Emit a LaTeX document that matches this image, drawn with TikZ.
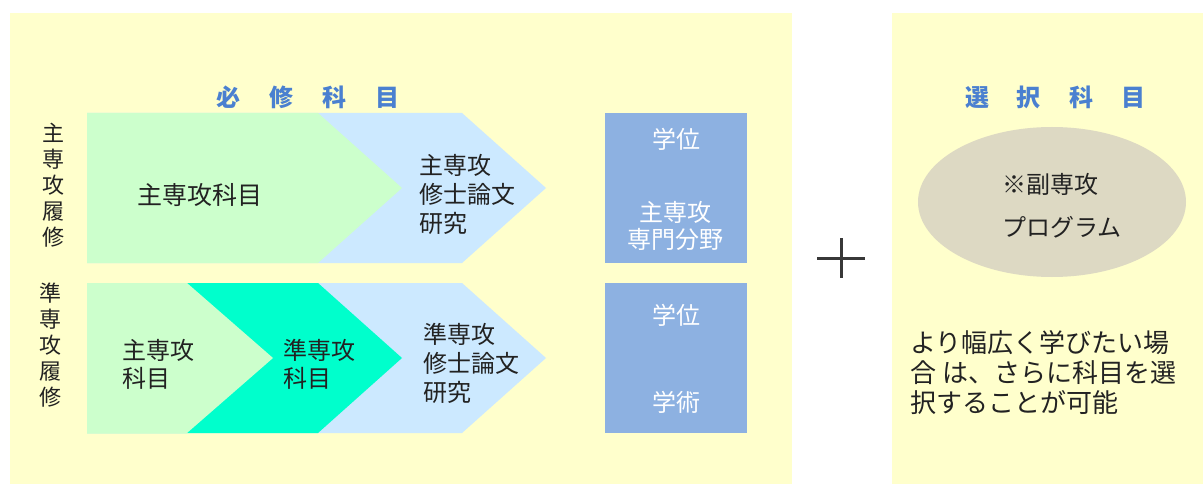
\documentclass[tikz,border=0pt]{standalone}
\usepackage{fontspec}
\usetikzlibrary{shapes.geometric}
\newfontfamily\jp{Noto Sans CJK JP}
\definecolor{panelc}{HTML}{FFFFCC}
\definecolor{lgreen}{HTML}{CCFFCC}
\definecolor{lblue}{HTML}{CCE9FF}
\definecolor{tealc}{HTML}{00FFCC}
\definecolor{degblue}{HTML}{8DB1E1}
\definecolor{titleblue}{HTML}{4A80D0}
\definecolor{ellc}{HTML}{DDD9C3}
\definecolor{txt}{HTML}{222222}
\begin{document}
\begin{tikzpicture}[x=1pt,y=-1pt,
  panel/.style={fill=panelc},
  degbox/.style={fill=degblue, minimum width=142pt, minimum height=150pt, inner sep=0pt},
  body/.style={text=txt, inner sep=0pt, align=left, font={\jp\fontsize{24}{29}\selectfont}},
  vert/.style={text=txt, inner sep=0pt, align=center, font={\jp\fontsize{22}{26}\selectfont}},
  wtext/.style={text=white, inner sep=0pt, align=center, font={\jp\fontsize{24}{27}\selectfont}},
  title/.style={text=titleblue, inner sep=0pt, font={\jp\bfseries\fontsize{24}{28}\selectfont}},
  note/.style={text=txt, inner sep=0pt, align=left, font={\jp\fontsize{26}{30}\selectfont}}
]
\useasboundingbox (0,0) rectangle (1203,484);
% panels
\fill[panel] (10,13) rectangle (792,484);
\fill[panel] (892,13) rectangle (1203,484);
% row 1 chevrons
\fill[lblue] (87,113) -- (462,113) -- (546,188) -- (462,263) -- (87,263) -- cycle;
\fill[lgreen] (87,113) -- (318,113) -- (402,188) -- (318,263) -- (87,263) -- cycle;
% row 2 chevrons
\fill[lblue] (87,283) -- (462,283) -- (546,358) -- (462,433) -- (87,433) -- cycle;
\fill[tealc] (87,283) -- (318,283) -- (402,358) -- (318,433) -- (87,433) -- cycle;
\fill[lgreen] (87,283) -- (187,283) -- (273,358) -- (187,433) -- (87,433) -- cycle;
% degree boxes
\node[degbox] (deg1) at (676,188) {};
\node[degbox] (deg2) at (676,358) {};
% titles
\node[title] (t1) at (308,97) {必\hspace{29pt}修\hspace{29pt}科\hspace{29pt}目};
\node[title] (t2) at (1055,97) {選\hspace{28pt}択\hspace{28pt}科\hspace{28pt}目};
% vertical labels
\node[vert] (v1) at (53,185) {主\\専\\攻\\履\\修};
\node[vert] (v2) at (50,345) {準\\専\\攻\\履\\修};
% row 1 texts
\node[body, anchor=west, font={\jp\fontsize{25}{29}\selectfont}] (r1a) at (137,195) {主専攻科目};
\node[body, anchor=west] (r1b) at (419,194) {主専攻\\修士論文\\研究};
\node[wtext] (d1a) at (676,139) {学位};
\node[wtext] (d1b) at (675,226) {主専攻\\専門分野};
% row 2 texts
\node[body, anchor=west, font={\jp\fontsize{24}{28}\selectfont}] (r2a) at (122,364) {主専攻\\科目};
\node[body, anchor=west, font={\jp\fontsize{24}{28}\selectfont}] (r2b) at (283,364) {準専攻\\科目};
\node[body, anchor=west] (r2c) at (423,363) {準専攻\\修士論文\\研究};
\node[wtext] (d2a) at (676,315) {学位};
\node[wtext] (d2b) at (676,402) {学術};
% plus sign
\draw[line width=3pt, txt!90] (817,258) -- (865,258);
\draw[line width=3pt, txt!90] (841,238) -- (841,278);
% elective
\node[ellipse, fill=ellc, minimum width=268pt, minimum height=150pt, inner sep=0pt] (ell) at (1052,202) {};
\node[body, anchor=west, font={\jp\fontsize{24}{43}\selectfont}] (ellt) at (1002,206) {※副専攻\\プログラム};
\node[note, anchor=west] (nt) at (910,373) {より幅広く学びたい場\\合 は、さらに科目を選\\択することが可能};
\end{tikzpicture}
\end{document}
